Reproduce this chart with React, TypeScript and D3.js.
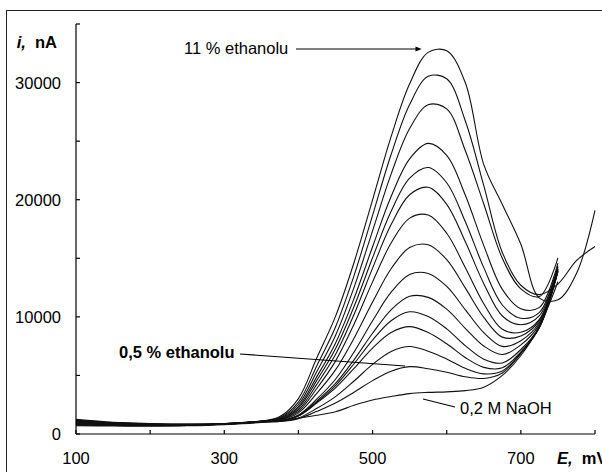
import React from "react";
import * as d3 from "d3";

// Potential grid (mV)
const E_SHORT = [100, 150, 200, 250, 300, 350, 375, 400, 425, 450, 475, 500, 525, 550, 575, 600, 625, 650, 675, 700, 725, 750];
const E_LONG = [...E_SHORT, 775, 800];

// Current (nA) – 11 % ethanol down to 0.5 % ethanol, then blank 0.2 M NaOH
const c1 = [1100, 950, 850, 820, 880, 1100, 1485, 3024, 6524, 10039, 14643, 19990, 25392, 29897, 32579, 32720, 30000, 23000, 19600, 16200, 11600, 11450, 13700, 19100];
const c2 = [1000, 900, 820, 800, 870, 1080, 1400, 2724, 5853, 9138, 13523, 18668, 23862, 28134, 30532, 30323, 26743, 21200, 15500, 12700, 11900, 12800, 14800, 16000];
const c3 = [1250, 1000, 900, 850, 900, 1100, 1344, 2519, 5352, 8409, 12513, 17343, 22181, 26075, 28109, 27760, 24200, 19635, 14995, 12387, 11736, 15029];
const c4 = [900, 820, 760, 760, 850, 1060, 1295, 2338, 4917, 7755, 11562, 15984, 20274, 23491, 24808, 23786, 20404, 16082, 12348, 10698, 10808, 14580];
const c5 = [1150, 950, 830, 800, 880, 1090, 1260, 2209, 4597, 7276, 10883, 15042, 19006, 21835, 22751, 21446, 18138, 14201, 11011, 9882, 10380, 14382];
const c6 = [800, 760, 720, 740, 840, 1050, 1225, 2071, 4258, 6782, 10206, 14158, 17876, 20426, 21060, 19607, 16428, 12835, 10074, 9330, 10104, 14260];
const c7 = [1050, 900, 800, 790, 870, 1070, 1191, 1937, 3904, 6222, 9376, 12987, 16301, 18428, 18693, 17136, 14214, 11124, 8935, 8684, 9792, 14128];
const c8 = [950, 850, 780, 780, 860, 1060, 1164, 1803, 3488, 5472, 8174, 11267, 14106, 15927, 16155, 14885, 12475, 9958, 8270, 8370, 9678, 14095];
const c9 = [1200, 980, 860, 820, 880, 1080, 1123, 1625, 2995, 4672, 6990, 9662, 12106, 13619, 13702, 12597, 10617, 8647, 7477, 7968, 9513, 14037];
const c10 = [850, 780, 740, 750, 850, 1050, 1116, 1580, 2828, 4315, 6331, 8599, 10602, 11754, 11665, 10663, 9025, 7508, 6781, 7606, 9360, 13980];
const c11 = [1000, 880, 800, 790, 860, 1060, 1108, 1546, 2729, 4135, 5999, 8018, 9673, 10431, 10034, 8975, 7540, 6390, 6062, 7213, 9178, 13907];
const c12 = [750, 720, 700, 730, 830, 1040, 1108, 1535, 2659, 3944, 5602, 7330, 8665, 9170, 8665, 7704, 6524, 5689, 5653, 7017, 9104, 13885];
const c13 = [1100, 920, 820, 800, 860, 1050, 1071, 1369, 2194, 3194, 4522, 5938, 7048, 7470, 7070, 6403, 5605, 5132, 5374, 6912, 9084, 13889];
const c14 = [900, 830, 760, 760, 850, 1040, 1063, 1305, 1932, 2644, 3568, 4555, 5364, 5749, 5570, 5275, 4884, 4744, 5215, 6877, 9100, 13909];
const naoh = [700, 680, 660, 700, 800, 980, 1150, 1350, 1600, 1900, 2450, 2900, 3200, 3450, 3550, 3600, 3700, 4000, 5000, 6700, 9200, 13000];

const SERIES = [c1, c2, c3, c4, c5, c6, c7, c8, c9, c10, c11, c12, c13, c14, naoh];

const X_TICKS = [100, 200, 300, 400, 500, 600, 700, 800];
const X_LABELS = [100, 300, 500, 700];
const Y_TICKS = [0, 5000, 10000, 15000, 20000, 25000, 30000, 35000];
const Y_LABELS = [0, 10000, 20000, 30000];

const FONT = "'Liberation Sans', Arial, sans-serif";

export default function App() {
  const W = 602;
  const H = 472;
  const x = d3.scaleLinear().domain([100, 800]).range([76, 595]);
  const y = d3.scaleLinear().domain([0, 35000]).range([434, 24]);

  const line = d3
    .line<[number, number]>()
    .x((d) => x(d[0]))
    .y((d) => y(d[1]))
    .curve(d3.curveCatmullRom.alpha(0.5));

  const paths = SERIES.map((s) => {
    const es = s.length === E_LONG.length ? E_LONG : E_SHORT;
    return line(s.map((v, i) => [es[i], v] as [number, number])) || "";
  });

  return (
    <svg
      width={W}
      height={H}
      style={{ position: "absolute", left: 0, top: 0, background: "#fff" }}
      fontFamily={FONT}
    >
      <rect x={6.5} y={10.5} width={700} height={600} fill="#fff" stroke="#222" strokeWidth={1} />

      {/* curves */}
      {paths.map((d, i) => (
        <path key={i} d={d} fill="none" stroke="#111" strokeWidth={1.1} />
      ))}

      {/* y axis */}
      <line x1={x(100)} x2={x(100)} y1={y(35000)} y2={y(0)} stroke="#000" strokeWidth={1.2} />
      {Y_TICKS.map((t) => (
        <line key={t} x1={x(100)} x2={x(100) + 4} y1={y(t)} y2={y(t)} stroke="#000" strokeWidth={1.2} />
      ))}
      {Y_LABELS.map((t) => (
        <text key={t} x={61} y={y(t)} dy="0.36em" textAnchor="end" fontSize={16.5} fill="#000">
          {t}
        </text>
      ))}
      <text x={57} y={47.5} textAnchor="end" fontSize={16.5} fontWeight="bold" fill="#000">
        <tspan fontStyle="italic">i,</tspan>
        <tspan>{"\u00a0 nA"}</tspan>
      </text>

      {/* x axis */}
      <line x1={x(100)} x2={x(800)} y1={y(0)} y2={y(0)} stroke="#000" strokeWidth={1.2} />
      {X_TICKS.map((t) => (
        <line key={t} x1={x(t)} x2={x(t)} y1={y(0)} y2={y(0) - 4} stroke="#000" strokeWidth={1.2} />
      ))}
      {X_LABELS.map((t) => (
        <text key={t} x={x(t)} y={464} textAnchor="middle" fontSize={16.5} fill="#000">
          {t}
        </text>
      ))}
      <text x={557} y={464} fontSize={16.5} fontWeight="bold" fill="#000">
        <tspan fontStyle="italic">E,</tspan>
        <tspan>{"\u00a0 mV"}</tspan>
      </text>

      {/* annotations */}
      <text x={184} y={54} fontSize={16.5} fill="#000">11 % ethanolu</text>
      <line x1={296} y1={49} x2={417} y2={49} stroke="#000" strokeWidth={1.1} />
      <path d="M421.7,49 L415.5,46.6 L415.5,51.4 Z" fill="#000" />

      <text x={119} y={358} fontSize={16.5} fontWeight="bold" fill="#000">0,5 % ethanolu</text>
      <line x1={240} y1={354} x2={405} y2={366} stroke="#000" strokeWidth={1.1} />

      <text x={460} y={414} fontSize={16.5} fill="#000">0,2 M NaOH</text>
      <line x1={423} y1={399} x2={455} y2={407} stroke="#000" strokeWidth={1.1} />
    </svg>
  );
}
